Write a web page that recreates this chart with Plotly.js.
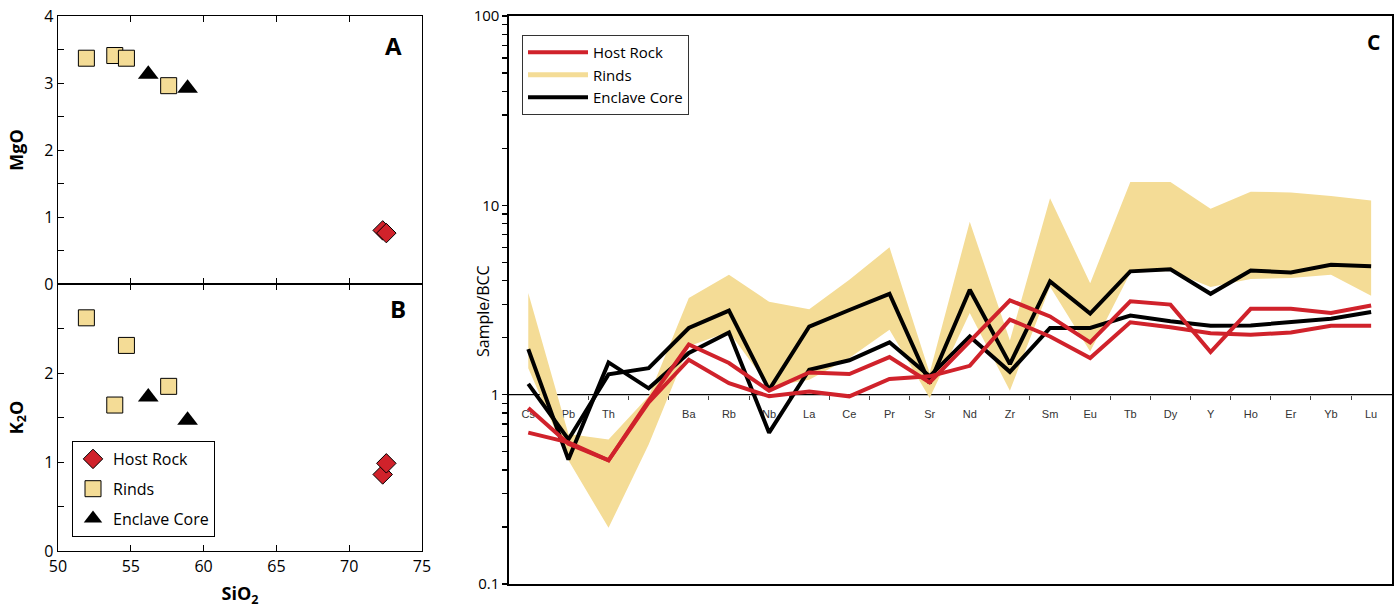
<!DOCTYPE html>
<html>
<head>
<meta charset="utf-8">
<script src="https://cdn.plot.ly/plotly-3.0.1.min.js"></script>
<style>html,body{margin:0;padding:0;background:#fff}#chart{width:1400px;height:611px}</style>
</head>
<body>
<div id="chart"></div>
<script>
// ---- Panels A & B: major-element data (wt%) ----
const hostSiO2 = [72.3, 72.55];
const hostMgO  = [0.80, 0.76];
const hostK2O  = [0.86, 0.985];

const rindSiO2 = [51.95, 53.9, 54.7, 57.6];
const rindMgO  = [3.37, 3.41, 3.37, 2.96];
const rindK2O  = [2.62, 1.64, 2.31, 1.85];

const coreSiO2 = [56.2, 58.9];
const coreMgO  = [3.13, 2.92];
const coreK2O  = [1.73, 1.47];

// ---- Panel C: Sample/BCC spider diagram ----
const elements = ["Cs","Pb","Th","","Ba","Rb","Nb","La","Ce","Pr","Sr","Nd","Zr","Sm","Eu","Tb","Dy","Y","Ho","Er","Yb","Lu"];
const host1 = [0.85,0.55,0.45,0.93,1.84,1.47,1.05,1.31,1.285,1.58,1.16,1.90,3.15,2.59,1.89,3.11,2.99,1.68,2.84,2.84,2.70,2.96];
const host2 = [0.63,0.56,0.45,0.91,1.53,1.15,0.98,1.04,0.98,1.21,1.25,1.42,2.49,2.03,1.56,2.41,2.27,2.11,2.07,2.13,2.31,2.31];
const core1 = [1.74,0.454,1.48,1.08,1.66,2.13,0.63,1.355,1.52,1.89,1.25,2.03,1.32,2.25,2.25,2.62,2.44,2.31,2.32,2.41,2.52,2.73];
const core2 = [1.14,0.58,1.28,1.38,2.25,2.78,1.06,2.29,2.80,3.41,1.15,3.58,1.45,3.96,2.68,4.48,4.60,3.41,4.53,4.42,4.85,4.76];
const rindMax = [3.44,0.62,0.58,0.98,3.24,4.30,3.10,2.83,4.04,6.00,1.30,8.20,1.93,10.9,3.88,13.3,13.3,9.6,11.8,11.7,11.2,10.6];
const rindMin = [1.38,0.45,0.198,0.545,1.80,2.15,1.10,1.20,1.56,2.20,0.96,2.70,1.05,3.72,1.69,4.40,4.50,3.70,4.08,4.13,4.30,3.33];
const decades = [0.1, 1, 10, 100];

const RED = '#D0222B', TAN = '#F4DC96', BLK = '#000000';
const FONT = 'Open Sans, Liberation Sans, sans-serif';

const idx = elements.map((_, i) => i);
const mids = elements.slice(1).map((_, i) => i + 0.5);
const logMinor = decades.slice(0, -1).flatMap(d => [2,3,4,5,6,7,8,9].map(k => +(k * d).toPrecision(3)));

const W = 1400, H = 611;
const fx = p => p / W, fy = p => 1 - p / H;

const traces = [];
// Panel A
traces.push({x: hostSiO2, y: hostMgO, xaxis:'x', yaxis:'y', mode:'markers', showlegend:false,
  marker:{symbol:'diamond', size:15, color:RED, line:{color:BLK, width:1}}});
traces.push({x: rindSiO2, y: rindMgO, xaxis:'x', yaxis:'y', mode:'markers', showlegend:false,
  marker:{symbol:'square', size:16, color:TAN, line:{color:BLK, width:1}}});
traces.push({x: coreSiO2, y: coreMgO, xaxis:'x', yaxis:'y', mode:'markers', showlegend:false,
  marker:{symbol:'triangle-up', size:18, color:BLK, line:{color:BLK, width:0}}});
// Panel B
traces.push({x: hostSiO2, y: hostK2O, xaxis:'x2', yaxis:'y2', mode:'markers', name:'Host Rock', legend:'legend',
  legendgroup:'h', marker:{symbol:'diamond', size:15, color:RED, line:{color:BLK, width:1}}});
traces.push({x: rindSiO2, y: rindK2O, xaxis:'x2', yaxis:'y2', mode:'markers', name:'Rinds', legend:'legend',
  legendgroup:'r', marker:{symbol:'square', size:16, color:TAN, line:{color:BLK, width:1}}});
traces.push({x: coreSiO2, y: coreK2O, xaxis:'x2', yaxis:'y2', mode:'markers', name:'Enclave Core', legend:'legend',
  legendgroup:'c', marker:{symbol:'triangle-up', size:18, color:BLK, line:{color:BLK, width:0}}});

// Panel C: rind envelope
traces.push({x: idx.concat(idx.slice().reverse()), y: rindMax.concat(rindMin.slice().reverse()),
  xaxis:'x3', yaxis:'y3', mode:'lines', fill:'toself', fillcolor:TAN, line:{width:0, color:TAN},
  showlegend:false, hoverinfo:'skip'});
// legend proxy for rinds (also ties the element-label axis x4 to y3)
traces.push({x:[null], y:[null], xaxis:'x4', yaxis:'y3', mode:'lines', name:'Rinds', legend:'legend2',
  legendrank:2, line:{color:TAN, width:5}});
// enclave cores
traces.push({x: idx, y: core1, xaxis:'x3', yaxis:'y3', mode:'lines', name:'Enclave Core', legend:'legend2',
  legendrank:3, legendgroup:'core', line:{color:BLK, width:4}});
traces.push({x: idx, y: core2, xaxis:'x3', yaxis:'y3', mode:'lines', name:'Enclave Core', legend:'legend2',
  legendgroup:'core', showlegend:false, line:{color:BLK, width:4}});
// host rocks
traces.push({x: idx, y: host1, xaxis:'x3', yaxis:'y3', mode:'lines', name:'Host Rock', legend:'legend2',
  legendrank:1, legendgroup:'host', line:{color:RED, width:4}});
traces.push({x: idx, y: host2, xaxis:'x3', yaxis:'y3', mode:'lines', name:'Host Rock', legend:'legend2',
  legendgroup:'host', showlegend:false, line:{color:RED, width:4}});

const tickFont = {family: FONT, size: 16, color: '#000'};
const frameAxis = {showline:true, linecolor:'#000', linewidth:1.3, zeroline:false, showgrid:false, automargin:false,
  ticks:'inside', ticklen:6, tickwidth:1, tickcolor:'#000', tickfont: tickFont};

const xA = [fx(58), fx(422)];
const xC = [fx(509), fx(1392)];
const yC = [fy(584), fy(16)];

// decade gridlines of panel C (1 and 10), placed through the y3 log axis
const gridShapes = decades.slice(1, -1).map(d => ({type:'line', xref:'x3 domain', yref:'y3',
  x0:0, x1:1, y0:Math.log10(d), y1:Math.log10(d), layer:'below', line:{color:'#000', width:1.3}}));

const layout = {
  width: W, height: H,
  margin: {l:0, r:0, t:0, b:0},
  paper_bgcolor:'#fff', plot_bgcolor:'rgba(0,0,0,0)',
  font: {family: FONT, color:'#000'},
  xaxis: Object.assign({}, frameAxis, {domain:xA, anchor:'y', range:[50,75], tickmode:'linear', tick0:50, dtick:5,
    showticklabels:false, mirror:'ticks'}),
  yaxis: Object.assign({}, frameAxis, {domain:[fy(284), fy(16)], anchor:'x', range:[0,4], tickvals:[0,1,2,3,4],
    mirror:true, minor:{tickvals:[0.5,1.5,2.5,3.5], ticks:'inside', ticklen:6, tickcolor:'#000'},
    title:{text:'<b>MgO</b>', font:{family:FONT, size:18}, standoff:16}}),
  xaxis2: Object.assign({}, frameAxis, {domain:xA, anchor:'y2', range:[50,75], tickmode:'linear', tick0:50, dtick:5,
    mirror:'ticks', title:{text:'<b>SiO<sub>2</sub></b>', font:{family:FONT, size:18}, standoff:12}}),
  yaxis2: Object.assign({}, frameAxis, {domain:[fy(551), fy(284)], anchor:'x2', range:[0,3], tickvals:[0,1,2],
    mirror:true, minor:{tickvals:[0.5,1.5,2.5], ticks:'inside', ticklen:6, tickcolor:'#000'},
    title:{text:'<b>K<sub>2</sub>O</b>', font:{family:FONT, size:18}, standoff:16}}),
  // Panel C frame axis (bottom + mirrored top)
  xaxis3: {domain:xC, anchor:'y3', range:[-0.48, 21.52],
    showline:true, mirror:true, linecolor:'#000', linewidth:1.6, showticklabels:false, ticks:'',
    zeroline:false, showgrid:false, automargin:false},
  // labelled element axis sitting on the Sample/BCC = 1 line
  xaxis4: {domain:xC, anchor:'free', overlaying:'x3', position: fy(395), range:[-0.48, 21.52],
    showline:false, zeroline:false, showgrid:false, automargin:false, layer:'below traces',
    tickmode:'array', tickvals: idx, ticktext: elements, ticks:'outside', ticklen:9, tickcolor:'rgba(0,0,0,0)',
    tickfont:{family:'Liberation Sans, Arial, sans-serif', size:11, color:'#333'},
    minor:{tickvals: mids, ticks:'outside', ticklen:4, tickwidth:1, tickcolor:'#444'}},
  yaxis3: {domain:yC, anchor:'x3', type:'log', range:[-1, 2],
    tickmode:'array', tickvals: decades.concat(logMinor),
    ticktext: decades.map(String).concat(logMinor.map(() => '')),
    showline:true, mirror:true, linecolor:'#000', linewidth:1.6,
    showgrid:false, zeroline:false, automargin:false,
    ticks:'outside', ticklen:5, tickwidth:1.2, tickcolor:'#000', tickfont:{family:FONT, size:15, color:'#000'}},
  shapes: gridShapes,
  legend: {x: fx(72), y: fy(441), xanchor:'left', yanchor:'top', bgcolor:'#fff',
    bordercolor:'#000', borderwidth:1, font:{family:FONT, size:16, color:'#000'},
    itemsizing:'trace', traceorder:'grouped', tracegroupgap:6},
  legend2: {x: fx(522), y: fy(35), xanchor:'left', yanchor:'top', bgcolor:'#fff',
    bordercolor:'#333', borderwidth:1, font:{family:FONT, size:15, color:'#000'},
    itemwidth:60, traceorder:'normal', tracegroupgap:0},
  annotations: [
    {text:'Sample/BCC', x: fx(483), y: fy(311), xref:'paper', yref:'paper', xanchor:'center', yanchor:'middle',
      textangle:-90, showarrow:false, font:{family:FONT, size:16, color:'#000'}},
    {text:'<b>A</b>', x: fx(393), y: fy(45), xref:'paper', yref:'paper', xanchor:'center', yanchor:'middle',
      showarrow:false, font:{family:FONT, size:24, color:'#000'}},
    {text:'<b>B</b>', x: fx(398), y: fy(308), xref:'paper', yref:'paper', xanchor:'center', yanchor:'middle',
      showarrow:false, font:{family:FONT, size:24, color:'#000'}},
    {text:'<b>C</b>', x: fx(1373), y: fy(42), xref:'paper', yref:'paper', xanchor:'center', yanchor:'middle',
      showarrow:false, font:{family:FONT, size:21, color:'#000'}}
  ],
  showlegend: true
};

Plotly.newPlot('chart', traces, layout, {displayModeBar:false, staticPlot:true});
</script>
</body>
</html>
